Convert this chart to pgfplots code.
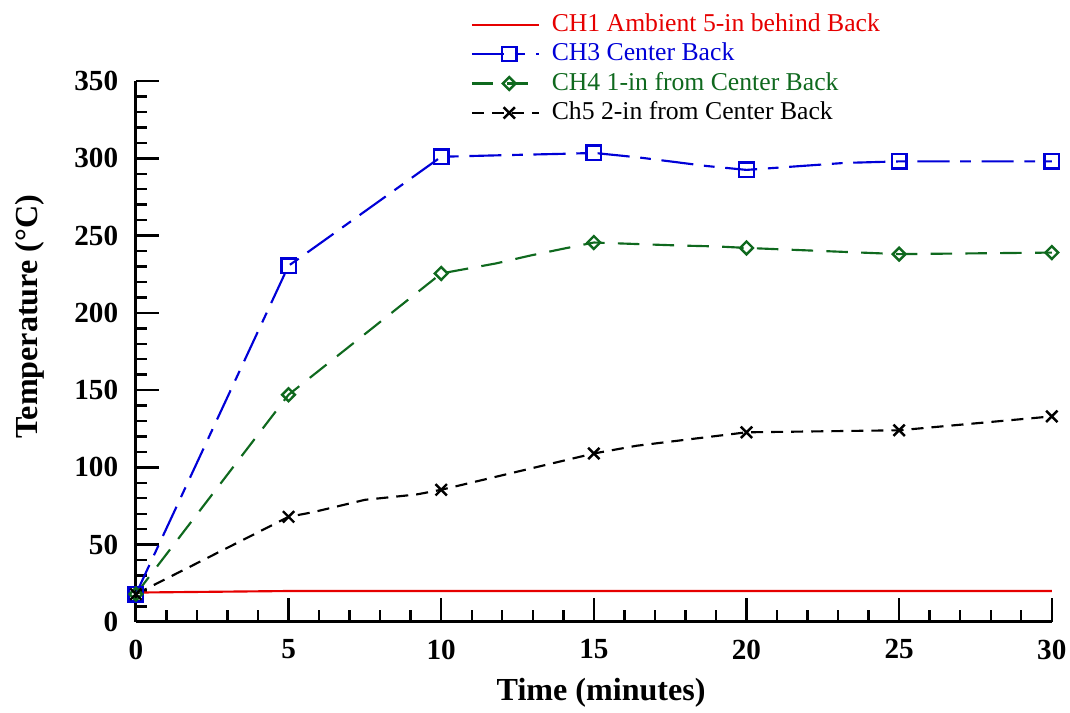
\documentclass[border=0pt]{standalone}
\usepackage{fontspec}
\setmainfont{Liberation Serif}
\usepackage{pgfplots}
\pgfplotsset{compat=1.18}

\definecolor{chred}{RGB}{230,0,0}
\definecolor{chblue}{RGB}{0,0,215}
\definecolor{chgreen}{RGB}{15,105,30}

\begin{document}
\begin{tikzpicture}
\useasboundingbox (-50.8pt,-34pt) rectangle (349.2pt,232.5pt);
\begin{axis}[
    scale only axis,
    width=342.4pt,
    height=202.2pt,
    xmin=0, xmax=30,
    ymin=0, ymax=350,
    axis lines=left,
    axis line style={-, line width=1.1pt},
    xtick={0,5,...,30},
    ytick={0,50,...,350},
    minor x tick num=4,
    minor y tick num=4,
    tick align=inside,
    major tick length=8.8pt,
    minor tick length=4.3pt,
    every tick/.style={black, line width=0.9pt},
    /pgf/number format/assume math mode=true,
    ticklabel style={font=\fontsize{10.9}{12}\selectfont\bfseries},
    xticklabel style={yshift=-3.1pt},
    yticklabel style={xshift=-3.1pt},
    xlabel={Time (minutes)},
    ylabel={Temperature (°C)},
    every axis x label/.style={at={(axis description cs:0.508,-0.131)}, anchor=center},
    every axis y label/.style={at={(axis description cs:-0.1157,0.564)}, rotate=90, anchor=center},
    label style={font=\fontsize{12}{14}\selectfont\bfseries},
    clip=false,
    legend cell align=left,
    legend style={
        at={(axis description cs:0.365,1.130)}, anchor=north west,
        draw=none, fill=none, inner sep=0pt,
        font=\fontsize{9.6}{11}\selectfont,
        nodes={inner sep=1pt, text height=6.5pt, text depth=1.5pt},
        row sep=1pt, column sep=3.5pt,
    },
    legend image code/.code={
        \draw[mark indices={2}] plot coordinates {(0pt,0pt) (14pt,0pt) (25pt,0pt)};
    },
]
% CH1 ambient
\addplot[chred, line width=0.8pt, no marks] coordinates {
    (0,19) (5,20) (10,20) (15,20) (20,20) (25,20) (30,20)
};
\addlegendentry{\textcolor{chred}{CH1 Ambient 5-in behind Back}}

% CH3 center back
\addplot[chblue, line width=0.8pt, dash pattern=on 12pt off 4pt on 4pt off 4pt,
    mark=square, mark size=2.7pt, mark options={solid, line width=0.9pt},
    mark indices={1,2,4,7,10,12,13}] coordinates {
    (0,18) (5,230.5) (5.4,236) (10,301) (12,302) (14.2,303) (15,303.5)
    (16.5,300.5) (18.7,295) (20,292.5) (23.2,297) (25,298) (30,298)
};
\addlegendentry{\textcolor{chblue}{CH3 Center Back}}

% CH4 1-in from center back
\addplot[chgreen, line width=0.8pt, dash pattern=on 8pt off 5pt,
    mark=diamond, mark size=2.4pt, mark options={solid, xscale=1.33, line width=0.9pt},
    mark indices={1,2,3,7,10,11,12}] coordinates {
    (0,18) (5,147) (10,225.5) (11.8,232) (12.9,237) (14,241.5) (15,245.5)
    (17.9,243.5) (19,243) (20,242) (25,238) (30,239)
};
\addlegendentry{\textcolor{chgreen}{CH4 1-in from Center Back}}

% Ch5 2-in from center back
\addplot[black, line width=0.8pt, dash pattern=on 4.5pt off 3pt,
    mark=x, mark size=3pt, mark options={solid, line width=0.9pt},
    mark indices={1,2,6,7,9,10,11}] coordinates {
    (0,18) (5,68) (5.8,71) (7.5,79) (9.2,82.5) (10,85.5) (15,109)
    (16.4,114) (20,122.7) (25,124) (30,133)
};
\addlegendentry{Ch5 2-in from Center Back}
\end{axis}
\end{tikzpicture}
\end{document}
